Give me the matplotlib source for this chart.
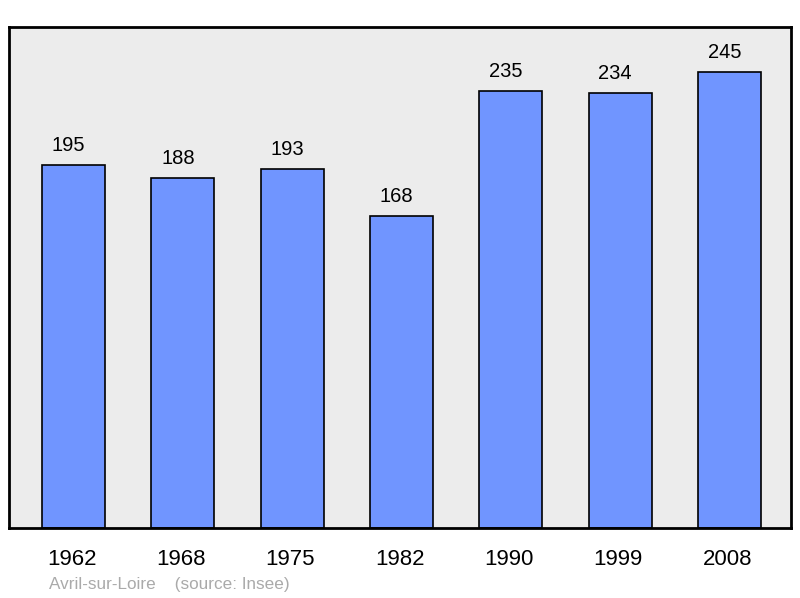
import matplotlib.pyplot as plt
from matplotlib.transforms import ScaledTranslation

annees = ["1962", "1968", "1975", "1982", "1990", "1999", "2008"]
population = [195, 188, 193, 168, 235, 234, 245]

plt.rcParams['font.family'] = ['Liberation Sans', 'DejaVu Sans']

fig = plt.figure(figsize=(8, 5.98), dpi=100)
ax = fig.add_axes([9/800, 1 - 528/598, 782/800, 501/598])
ax.set_facecolor("#ececec")

x = range(len(annees))
ax.bar(x, population, width=0.576, color="#7095ff", edgecolor="black", linewidth=1.2)
for i, v in zip(x, population):
    ax.annotate(str(v), (i, v), xytext=(-5, 14), textcoords="offset pixels",
                ha="center", va="baseline", fontsize=14.5)

ax.set_xlim(-0.59, 6.5625)
ax.set_ylim(0, 269.4)
ax.set_xticks(list(x))
ax.set_xticklabels(annees, fontsize=16)
ax.tick_params(axis="x", length=0, pad=15)
decal = ScaledTranslation(-2/100, 0, fig.dpi_scale_trans)
for lab in ax.get_xticklabels():
    lab.set_transform(lab.get_transform() + decal)
ax.set_yticks([])
for s in ax.spines.values():
    s.set_linewidth(2)

fig.text(49/800, 1 - 584/598, "Avril-sur-Loire    (source: Insee)", fontsize=12.3,
         color="#aaaaaa", va="center")

fig.savefig("out.png", dpi=100)
